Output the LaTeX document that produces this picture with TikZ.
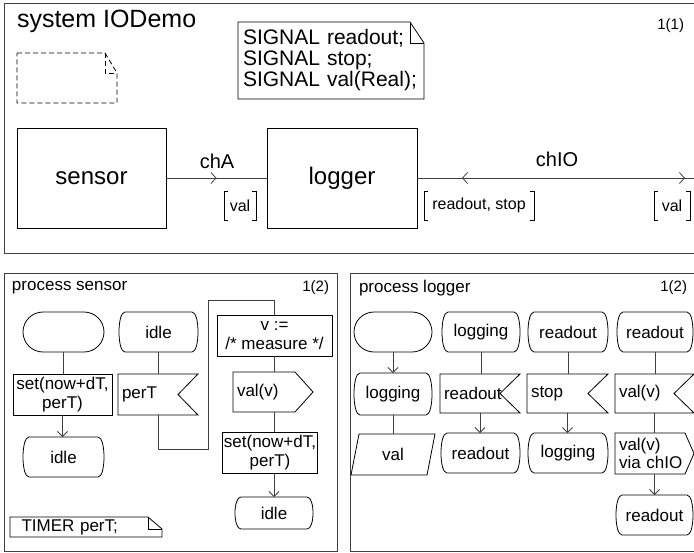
\documentclass[tikz,border=0pt]{standalone}
\usepackage{fontspec}
\setmainfont{Liberation Sans}
\usetikzlibrary{arrows.meta,decorations.markings}
\newcommand\fsz[2]{\fontsize{#1}{#2}\selectfont}
\newcommand\stateoutline[1]{\draw[sym] ([xshift=6pt]#1.north west) -- ([xshift=-6pt]#1.north east) .. controls ([xshift=2pt]#1.north east) and ([xshift=2pt]#1.south east) .. ([xshift=-6pt]#1.south east) -- ([xshift=6pt]#1.south west) .. controls ([xshift=-2pt]#1.south west) and ([xshift=-2pt]#1.north west) .. ([xshift=6pt]#1.north west) -- cycle;}
\newcommand\inputoutline[2]{\draw[sym] (#1.north west) -- (#1.north east) -- ([xshift=-#2pt]#1.east) -- (#1.south east) -- (#1.south west) -- cycle;}
\newcommand\outputoutline[2]{\draw[sym] (#1.north west) -- ([xshift=-#2pt]#1.north east) -- (#1.east) -- ([xshift=-#2pt]#1.south east) -- (#1.south west) -- cycle;}
\newcommand\paraoutline[2]{\draw[sym] ([xshift=#2pt]#1.north west) -- (#1.north east) -- ([xshift=-#2pt]#1.south east) -- (#1.south west) -- cycle;}
\newcommand\noteoutline[4]{\draw[sym,#4] (#1.north west) -- ([xshift=-#2pt]#1.north east) -- ([yshift=-#3pt]#1.north east) -- (#1.south east) -- (#1.south west) -- cycle;
  \draw[sym,#4] ([xshift=-#2pt]#1.north east) -- ([xshift=-#2pt,yshift=-#3pt]#1.north east) -- ([yshift=-#3pt]#1.north east);}
\newcommand\sigbrackets[1]{\draw[sym] ([xshift=4pt]#1.north west) -- (#1.north west) -- (#1.south west) -- ([xshift=4pt]#1.south west);
  \draw[sym] ([xshift=-4pt]#1.north east) -- (#1.north east) -- (#1.south east) -- ([xshift=-4pt]#1.south east);}
\tikzset{
  every node/.style={inner sep=0pt, outer sep=0pt, font=\fsz{17}{19}},
  sym/.style={line width=0.8pt, draw=black},
  flow/.style={line width=0.8pt, draw=black!75},
  arr/.style={flow, -{Straight Barb[length=5pt,width=10pt]}},
  frame/.style={line width=1pt, draw=black!75},
  block/.style={sym, minimum width=#1, minimum height=41pt, align=center},
  stadium/.style={sym, rounded corners=20pt, minimum width=#1, minimum height=40pt},
  statebox/.style={minimum width=#1, minimum height=40pt, align=center},
  leftbox/.style={minimum width=#1, minimum height=40pt, text width=#1-8pt, align=left},
  siglist/.style={minimum width=#1, minimum height=29pt, font=\fsz{16}{18}},
  chanA/.style={postaction={decorate}, decoration={markings, mark=at position 0.5 with {\arrow{Straight Barb[length=5pt,width=11pt]}}}},
  chanIO/.style={postaction={decorate}, decoration={markings,
      mark=at position 45pt with {\arrowreversed{Straight Barb[length=5pt,width=11pt]}},
      mark=at position 268pt with {\arrow{Straight Barb[length=5pt,width=11pt]}}}},
}
\begin{document}
\begin{tikzpicture}[x=1pt,y=-1pt]
\useasboundingbox (0,0) rectangle (694,552);
\clip (0,0) rectangle (694,552);

% ---------------- system frame ----------------
\draw[frame] (4,3) rectangle (710,253);
\node[anchor=west, font=\fsz{25}{28}] (title) at (17,21) {system IODemo};
\node[anchor=east, font=\fsz{15}{17}] (pg1) at (684,26) {1(1)};

\node[minimum width=100pt, minimum height=50pt] (dnote) at (67,78) {};
\noteoutline{dnote}{12}{20}{dash pattern=on 5pt off 3pt}

\node[minimum width=186pt, minimum height=77pt, text width=176pt, align=left, font=\fsz{21}{21}] (signals) at (331,60.5) {SIGNAL readout;\\SIGNAL stop;\\SIGNAL val(Real);};
\noteoutline{signals}{14}{21}{}

\node[sym, minimum width=149pt, minimum height=100pt, font=\fsz{24}{28}] (sensor) at (91.5,178) {sensor};
\node[sym, minimum width=150pt, minimum height=100pt, font=\fsz{24}{28}] (logger) at (342,178) {logger};

\draw[flow, chanA] (sensor.east) -- (logger.west);
\node[font=\fsz{20}{22}] (chAlbl) at (217,161) {chA};
\node[siglist=32pt] (sigA) at (240,205.5) {val};
\sigbrackets{sigA}

\coordinate (envR) at (710,178);
\draw[flow, chanIO] (logger.east) -- (envR);
\node[font=\fsz{20}{22}] (chIOlbl) at (557,159) {chIO};
\node[siglist=110pt] (sigIO1) at (479,205.5) {readout, stop};
\sigbrackets{sigIO1}
\node[siglist=36pt] (sigIO2) at (672,205.5) {val};
\sigbrackets{sigIO2}

% ---------------- process sensor ----------------
\draw[frame] (4,273) rectangle (337,551);
\node[anchor=west] (pname1) at (12,288) {process sensor};
\node[anchor=east, font=\fsz{15}{17}] (pg2) at (329,288) {1(2)};

\node[stadium=81pt] (sstart) at (63.5,332) {};
\node[block=99pt] (stask1) at (62.5,394.5) {set(now+dT,\\perT)};
\node[statebox=81pt] (sidle1) at (63.5,457) {idle};
\stateoutline{sidle1}

\node[statebox=79pt] (sidle2) at (158.5,332) {idle};
\stateoutline{sidle2}
\node[leftbox=80pt, minimum height=41pt] (sperT) at (158,394.5) {perT};
\inputoutline{sperT}{20}

\node[block=115pt] (stask2) at (274.5,335.5) {v :=\\/* measure */};
\node[leftbox=80pt] (sout) at (273,392) {val(v)};
\outputoutline{sout}{18}
\node[block=95pt] (stask3) at (270,452.5) {set(now+dT,\\perT)};
\node[statebox=78pt, minimum height=32pt] (sidle3) at (274,513) {idle};
\stateoutline{sidle3}

\node[minimum width=152pt, minimum height=20pt, text width=129pt, align=left] (timer) at (86,527) {TIMER perT;};
\noteoutline{timer}{14}{12}{}

\draw[flow] (sstart.south) -- (sstart.south |- stask1.north);
\draw[arr] (stask1.south) -- (stask1.south |- sidle1.north);
\draw[flow] (sidle2.south) -- (sidle2.south |- sperT.north);
\coordinate (j1) at (208,449);
\coordinate (j2) at (208,300);
\draw[flow] (sperT.south) |- (j1) -- (j2) -| (stask2.north);
\draw[flow] (stask2.south) -- (stask2.south |- sout.north);
\draw[flow] ([xshift=1pt]sout.south) -- ([xshift=1pt]sout.south |- stask3.north);
\draw[arr] ([xshift=4pt]stask3.south) -- ([xshift=4pt]stask3.south |- sidle3.north);

% ---------------- process logger ----------------
\draw[frame] (350,273) rectangle (710,551);
\node[anchor=west] (pname2) at (359,288) {process logger};
\node[anchor=east, font=\fsz{15}{17}] (pg3) at (687,288) {1(2)};

\node[stadium=78pt] (lstart) at (393,332) {};
\node[statebox=78pt, minimum height=42pt] (llog1) at (393,394) {logging};
\stateoutline{llog1}
\node[minimum width=84pt, minimum height=41pt] (lval) at (393,454.5) {val};
\paraoutline{lval}{8}

\node[statebox=78pt] (llog2) at (481,332) {logging};
\stateoutline{llog2}
\node[leftbox=80pt, minimum height=39pt] (lin1) at (480,393.5) {readout};
\inputoutline{lin1}{20}
\node[statebox=79pt] (lread1) at (480.5,453) {readout};
\stateoutline{lread1}

\node[statebox=80pt] (lread2) at (568,332) {readout};
\stateoutline{lread2}
\node[leftbox=81pt, minimum height=39pt] (lin2) at (567.5,393.5) {stop};
\inputoutline{lin2}{20}
\node[statebox=80pt] (llog3) at (568,453) {logging};
\stateoutline{llog3}

\node[statebox=76pt] (lread3) at (655,332) {readout};
\stateoutline{lread3}
\node[leftbox=79pt, minimum height=39pt] (lin3) at (654.5,393.5) {val(v)};
\inputoutline{lin3}{20}
\node[leftbox=79pt, minimum height=41pt, font=\fsz{17}{18}] (lout) at (654.5,453.5) {val(v)\\via chIO};
\outputoutline{lout}{9}
\node[statebox=77pt] (lread4) at (654.5,515) {readout};
\stateoutline{lread4}

\draw[arr] (lstart.south) -- (lstart.south |- llog1.north);
\draw[flow] (llog1.south) -- (llog1.south |- lval.north);
\draw[flow] (llog2.south) -- (llog2.south |- lin1.north);
\draw[arr] (lin1.south) -- (lin1.south |- lread1.north);
\draw[flow] (lread2.south) -- (lread2.south |- lin2.north);
\draw[arr] (lin2.south) -- (lin2.south |- llog3.north);
\draw[flow] (lread3.south) -- (lread3.south |- lin3.north);
\draw[flow] (lin3.south) -- (lin3.south |- lout.north);
\draw[arr] (lout.south) -- (lout.south |- lread4.north);
\end{tikzpicture}
\end{document}
